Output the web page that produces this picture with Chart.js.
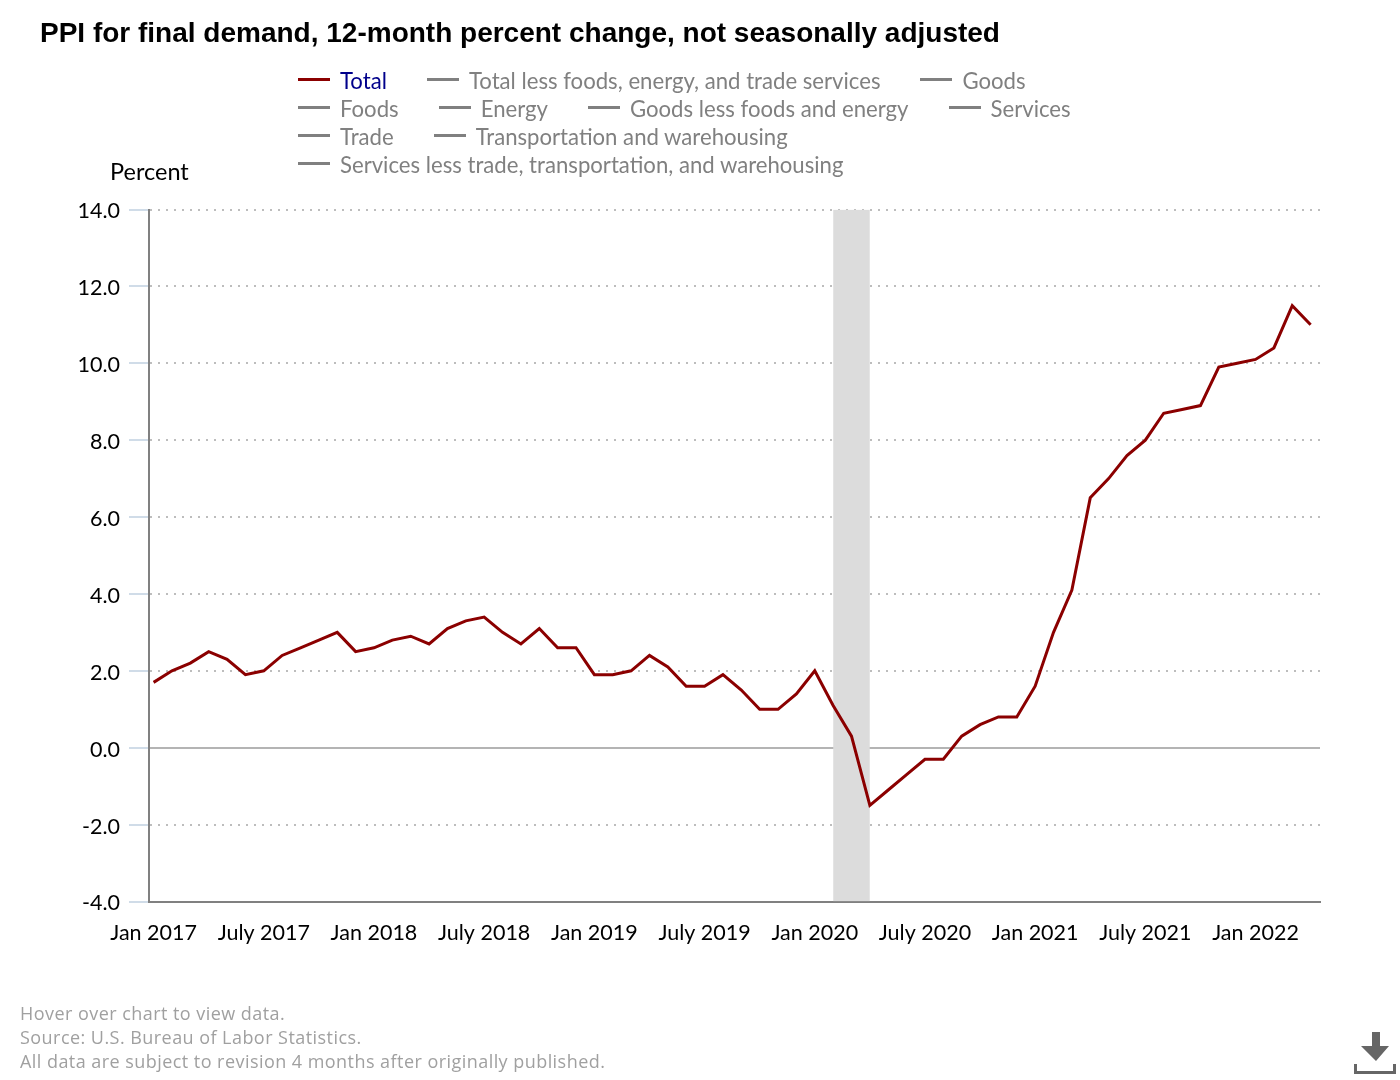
<!DOCTYPE html>
<html>
<head>
<meta charset="utf-8">
<title>PPI for final demand</title>
<script src="https://cdn.jsdelivr.net/npm/chart.js@4"></script>
<style>
  html,body{margin:0;padding:0;background:#fff;overflow:hidden;}
  #wrap{position:relative;width:1400px;height:1080px;font-family:Lato,sans-serif;}
  canvas{position:absolute;left:0;top:0;}
  #title{position:absolute;left:40px;top:15px;font:bold 28px "Liberation Sans",Arial,sans-serif;color:#000;white-space:nowrap;line-height:36px;}
  #legend{position:absolute;left:298px;top:67px;width:800px;display:flex;flex-wrap:wrap;column-gap:40px;font-size:22.15px;line-height:28px;color:#808080;}
  #legend .item{display:flex;align-items:center;height:28px;white-space:nowrap;}
  #legend .sw{display:inline-block;width:32px;height:3px;background:#808080;margin-right:10px;margin-bottom:3px;}
  #legend .item.on{color:#00008b;}
  #legend .item.on .sw{background:#8b0000;}
  #unit{position:absolute;left:110px;top:156px;font-size:23.5px;line-height:30px;color:#000;}
  #notes{position:absolute;left:20px;top:1001px;font:18px/24px "Open Sans",sans-serif;color:#a0a0a0;letter-spacing:.45px;white-space:nowrap;}
  #dl{position:absolute;left:1354px;top:1032px;}
</style>
</head>
<body>
<div id="wrap">
  <canvas id="c" width="1400" height="1080"></canvas>
  <div id="title">PPI for final demand, 12-month percent change, not seasonally adjusted</div>
  <div id="legend"></div>
  <div id="unit">Percent</div>
  <div id="notes">Hover over chart to view data.<br>Source: U.S. Bureau of Labor Statistics.<br>All data are subject to revision 4 months after originally published.</div>
  <svg id="dl" width="42" height="42" viewBox="0 0 42 42" fill="#666"><path d="M18 0h8v14h9L22 29 7 14h11z"/><path d="M0 32h3v7h36v-7h3v10H0z"/></svg>
</div>
<script>
const months = ["Jan","Feb","Mar","Apr","May","June","July","Aug","Sep","Oct","Nov","Dec"];
const years = [2017,2018,2019,2020,2021,2022];
const categories = [];
years.forEach(y => months.forEach(m => categories.push(m + " " + y)));
categories.length = 64;

const total = [
  1.7,2.0,2.2,2.5,2.3,1.9,2.0,2.4,2.6,2.8,3.0,2.5,
  2.6,2.8,2.9,2.7,3.1,3.3,3.4,3.0,2.7,3.1,2.6,2.6,
  1.9,1.9,2.0,2.4,2.1,1.6,1.6,1.9,1.5,1.0,1.0,1.4,
  2.0,1.1,0.3,-1.5,-1.1,-0.7,-0.3,-0.3,0.3,0.6,0.8,0.8,
  1.6,3.0,4.1,6.5,7.0,7.6,8.0,8.7,8.8,8.9,9.9,10.0,
  10.1,10.4,11.5,11.0
];
const recession = ["Feb 2020","Apr 2020"];
const legendNames = [
  "Total","Total less foods, energy, and trade services","Goods",
  "Foods","Energy","Goods less foods and energy","Services",
  "Trade","Transportation and warehousing",
  "Services less trade, transportation, and warehousing"
];
const xTickLabels = ["Jan 2017","July 2017","Jan 2018","July 2018","Jan 2019","July 2019","Jan 2020","July 2020","Jan 2021","July 2021","Jan 2022"];
const yMin = -4, yMax = 14, yStep = 2;

const legendEl = document.getElementById("legend");
legendNames.forEach((n,i) => {
  const d = document.createElement("div");
  d.className = "item" + (i === 0 ? " on" : "");
  const s = document.createElement("span"); s.className = "sw";
  const t = document.createElement("span"); t.textContent = n;
  d.append(s,t); legendEl.append(d);
});

// The y labels sit slightly below their gridlines in the reference.
const nudgeYLabels = {
  id:"nudgeYLabels",
  beforeDraw(chart){
    chart.scales.y.getLabelItems(chart.chartArea).forEach(it=>{ it.options.translation[1] += 2; });
  }
};

const tickFont = {family:"Lato, sans-serif", size:21.5};
new Chart(document.getElementById("c"), {
  type:"line",
  plugins:[nudgeYLabels],
  data:{datasets:[
    {label:"Total", data:total.map((v,i)=>({x:i,y:v})), borderColor:"#8b0000", borderWidth:3, pointRadius:0, tension:0, fill:false, order:1},
    {label:"Recession", data:recession.map(m=>({x:categories.indexOf(m),y:yMax})), borderWidth:0, borderColor:"transparent", backgroundColor:"#dcdcdc", pointRadius:0, fill:"start", order:2}
  ]},
  options:{
    responsive:false, animation:false, devicePixelRatio:1,
    layout:{padding:{left:0,top:209.5,right:80,bottom:118.5}},
    plugins:{legend:{display:false},title:{display:false},tooltip:{enabled:false}},
    scales:{
      x:{type:"linear",min:-0.25,max:63.51,
        afterFit:s=>{s.height=60;},
        afterBuildTicks:s=>{s.ticks=xTickLabels.map(l=>({value:categories.indexOf(l)}));},
        ticks:{autoSkip:false,maxRotation:0,color:"#000",font:tickFont,padding:19,callback:v=>categories[v]},
        grid:{display:false,drawTicks:false},
        border:{color:"#808080",width:2}
      },
      y:{min:yMin,max:yMax,
        afterFit:s=>{s.width=149;},
        ticks:{stepSize:yStep,color:"#000",font:tickFont,padding:9,callback:v=>v.toFixed(1)},
        grid:{tickLength:20,tickColor:"#c0d0e0",tickWidth:1.5,lineWidth:c=>c.tick&&c.tick.value===yMin?0:2,
          color:c=>c.tick&&c.tick.value===0?"#b4b4b4":"#bdbdbd"},
        border:{color:"#808080",width:2,dash:c=>c.tick&&c.tick.value===0?[]:[2,6]}
      }
    }
  }
});
</script>
</body>
</html>
